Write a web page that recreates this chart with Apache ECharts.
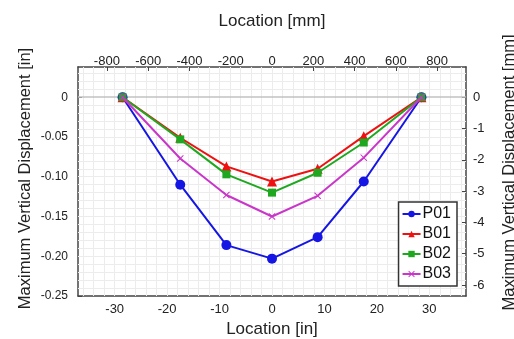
<!DOCTYPE html>
<html><head><meta charset="utf-8">
<script src="https://cdn.jsdelivr.net/npm/echarts@6/dist/echarts.min.js"></script>
<style>html,body{margin:0;padding:0;background:#fff}#c{width:514px;height:339px}</style>
</head><body><div id="c"></div>
<script>
// Data (inches)
const locations = [-28.5, -17.5, -8.7, 0, 8.7, 17.5, 28.5];
const P01 = [0, -0.110, -0.186, -0.203, -0.176, -0.106, 0];
const B01 = [0, -0.051, -0.087, -0.106, -0.090, -0.049, 0];
const B02 = [0, -0.053, -0.097, -0.120, -0.095, -0.057, 0];
const B03 = [0, -0.077, -0.123, -0.150, -0.124, -0.076, 0];
const seriesNames = ['P01', 'B01', 'B02', 'B03'];
const xTicksIn = [-30, -20, -10, 0, 10, 20, 30];
const xTicksMm = [-800, -600, -400, -200, 0, 200, 400, 600, 800];
const yTicksIn = [0, -0.05, -0.10, -0.15, -0.20, -0.25];
const yTicksMm = [0, -1, -2, -3, -4, -5, -6];

const X_MIN = -37, X_MAX = 37, Y_MIN = -0.25, Y_MAX = 0.038;
const MM = 25.4;

const gridX = []; for (let v = -36; v <= 36; v += 2) gridX.push(v);
const gridY = []; for (let i = -24; i <= 3; i++) gridY.push(i / 100);

const font = 'Liberation Sans, Arial, sans-serif';
const colors = ['#1616e4', '#ee1111', '#1fa81f', '#c936c9'];
const symbols = ['circle', 'triangle', 'rect', 'path://M0,1L1,0L5,4L9,0L10,1L6,5L10,9L9,10L5,6L1,10L0,9L4,5Z'];
const symSizes = [10, 10, 8, 7];
const all = [P01, B01, B02, B03];

const chart = echarts.init(document.getElementById('c'), null, {renderer: 'canvas'});
const frame = () => ({show: true, onZero: false, lineStyle: {color: '#444', width: 1.5, type: 'solid'}});
const tick = (vals) => ({show: true, inside: true, length: 4, customValues: vals, lineStyle: {color: '#444', type: 'solid'}});
const lbl = (fs) => ({color: '#222', fontSize: fs || 13, fontFamily: font});
const nameStyle = (pad, fs) => ({color: '#222', fontSize: fs || 17, fontFamily: font, padding: pad || 0});

const series = [{
  type: 'line', data: [], z: 1, silent: true,
  markLine: {
    z: 1, silent: true, symbol: 'none', label: {show: false}, animation: false,
    lineStyle: {color: '#ececec', type: 'solid', width: 1},
    emphasis: {disabled: true},
    data: gridX.map(v => ({xAxis: v})).concat(gridY.filter(v => Math.abs(v) > 1e-9).map(v => ({yAxis: v})))
      .concat([{yAxis: 0, lineStyle: {color: '#c2c2c2', width: 1.5, type: 'solid'}}])
  }
}];
seriesNames.forEach((n, i) => {
  series.push({
    name: n, type: 'line', z: 3 + i,
    data: locations.map((x, j) => [x, all[i][j]]),
    symbol: symbols[i], symbolSize: symSizes[i],
    lineStyle: {color: colors[i], width: 2, type: 'solid'},
    itemStyle: {color: colors[i]},
    emphasis: {disabled: true}
  });
});

chart.setOption({
  animation: false,
  grid: {left: 78, right: 48, top: 67, bottom: 43, containLabel: false, outerBoundsMode: 'none'},
  legend: {
    z: 10,
    data: seriesNames, orient: 'vertical', right: 57, top: 202,
    backgroundColor: '#fff', borderColor: '#333', borderWidth: 1.5,
    padding: [4, 6, 4, 3], itemGap: 4, itemWidth: 18, itemHeight: 8,
    textStyle: {color: '#111', fontSize: 16, fontFamily: font, padding: [0, 0, 0, -3]}
  },
  xAxis: [{
    type: 'value', position: 'bottom', min: X_MIN, max: X_MAX,
    name: 'Location [in]', nameLocation: 'middle', nameGap: 25, nameMoveOverlap: false, nameTextStyle: nameStyle(),
    axisLine: frame(), splitLine: {show: false},
    axisTick: tick(xTicksIn),
    axisLabel: Object.assign({customValues: xTicksIn, margin: 7}, lbl())
  }, {
    type: 'value', position: 'top', min: X_MIN * MM, max: X_MAX * MM,
    name: 'Location [mm]', nameLocation: 'middle', nameGap: 37, nameMoveOverlap: false, nameTextStyle: nameStyle(),
    axisLine: frame(), splitLine: {show: false},
    axisTick: tick(xTicksMm),
    axisLabel: Object.assign({customValues: xTicksMm, margin: -1}, lbl())
  }],
  yAxis: [{
    type: 'value', position: 'left', min: Y_MIN, max: Y_MAX,
    name: 'Maximum Vertical Displacement [in]', nameLocation: 'middle', nameGap: 44, nameMoveOverlap: false,
    nameTextStyle: nameStyle([0, 0, 0, 6], 16.5),
    axisLine: frame(), splitLine: {show: false},
    axisTick: tick(yTicksIn),
    axisLabel: Object.assign({customValues: yTicksIn, margin: 10,
      formatter: v => Math.abs(v) < 1e-9 ? '0' : v.toFixed(2)}, lbl(12))
  }, {
    type: 'value', position: 'right', min: Y_MIN * MM, max: Y_MAX * MM,
    name: 'Maximum Vertical Displacement [mm]', nameLocation: 'middle', nameGap: 35, nameMoveOverlap: false,
    nameTextStyle: nameStyle([0, 0, 0, 18], 16.5),
    axisLine: frame(), splitLine: {show: false},
    axisTick: tick(yTicksMm),
    axisLabel: Object.assign({customValues: yTicksMm, margin: 7,
      formatter: v => String(Math.round(v))}, lbl(13))
  }],
  series: series
});
</script></body></html>
